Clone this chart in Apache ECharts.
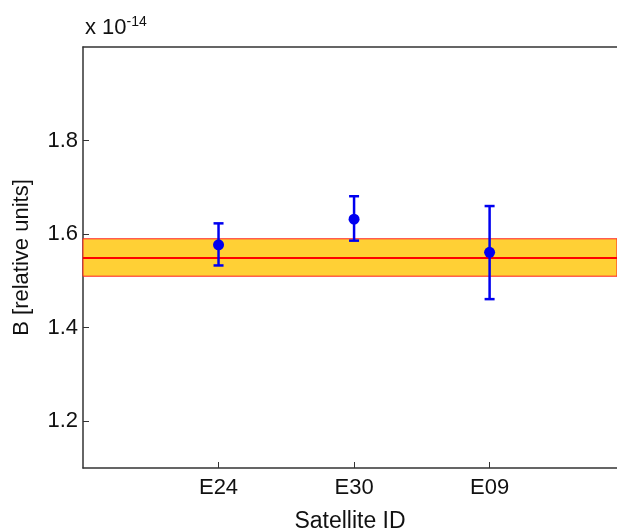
<!DOCTYPE html>
<html><head><meta charset="utf-8">
<script src="https://cdn.jsdelivr.net/npm/echarts@6/dist/echarts.min.js"></script>
<style>html,body{margin:0;padding:0;background:#fff}#c{width:617px;height:530px}</style>
</head><body><div id="c"></div>
<script>
var categories = ['E24', 'E30', 'E09'];
var xPositions = [1, 2, 3];
var values = [1.577, 1.632, 1.561];
var errLow = [1.533, 1.586, 1.461];
var errHigh = [1.623, 1.681, 1.660];
var bandMean = 1.552;
var bandLow = 1.510;
var bandHigh = 1.590;
var yTicks = [1.2, 1.4, 1.6, 1.8];

var FONT = 'Liberation Sans, Arial, sans-serif';
var chart = echarts.init(document.getElementById('c'), null, {renderer: 'canvas'});
var errData = xPositions.map(function (x, i) { return [x, errLow[i], errHigh[i]]; });
var ptData = xPositions.map(function (x, i) { return [x, values[i]]; });

chart.setOption({
  animation: false,
  backgroundColor: '#fff',
  title: {
    left: 80, top: 10,
    text: '{a|x 10}{b|-14}',
    textStyle: {
      fontWeight: 'normal',
      rich: {
        a: {fontFamily: FONT, fontSize: 22, fontWeight: 'normal', color: '#111'},
        b: {fontFamily: FONT, fontSize: 14, fontWeight: 'normal', color: '#111', verticalAlign: 'top', padding: [0, 0, 12, 0]}
      }
    }
  },
  grid: {left: 83, top: 47, bottom: 62, right: 0, show: false, outerBoundsMode: 'none', containLabel: false},
  xAxis: [{
    type: 'value', min: 0, max: 3.94, interval: 1,
    name: 'Satellite ID', nameLocation: 'middle', nameGap: 42,
    nameTextStyle: {fontFamily: FONT, fontSize: 23, color: '#111'},
    axisLine: {lineStyle: {color: '#333', width: 1.5}},
    axisTick: {inside: true, length: 6, customValues: xPositions, lineStyle: {color: '#333'}},
    axisLabel: {customValues: xPositions, margin: 9, fontFamily: FONT, fontSize: 22, color: '#111',
      formatter: function (v) { var i = xPositions.indexOf(v); return i >= 0 ? categories[i] : ''; }},
    splitLine: {show: false}
  }, {
    type: 'value', position: 'top', min: 0, max: 3.94,
    axisLine: {show: true, lineStyle: {color: '#333', width: 1.5}},
    axisTick: {show: false}, axisLabel: {show: false}, splitLine: {show: false}
  }],
  yAxis: {
    type: 'value', min: 1.1, max: 2.0,
    name: 'B [relative units]', nameLocation: 'middle', nameGap: 50,
    nameTextStyle: {fontFamily: FONT, fontSize: 22, color: '#111'},
    axisLine: {show: true, lineStyle: {color: '#333', width: 1.5}},
    axisTick: {show: true, inside: true, length: 6, customValues: yTicks, lineStyle: {color: '#333'}},
    axisLabel: {customValues: yTicks, margin: 5, fontFamily: FONT, fontSize: 22, color: '#111',
      formatter: function (v) { return v.toFixed(1); }},
    splitLine: {show: false}
  },
  series: [
    {
      type: 'line', data: [], silent: true,
      markArea: {
        silent: true,
        itemStyle: {color: '#FFD035', borderColor: '#FF2020', borderWidth: 1},
        data: [[{yAxis: bandLow}, {yAxis: bandHigh}]]
      },
      markLine: {
        silent: true, symbol: 'none', label: {show: false},
        lineStyle: {color: '#FF0000', width: 2, type: 'solid'},
        data: [{yAxis: bandMean}]
      }
    },
    {
      type: 'custom', data: errData, z: 5,
      renderItem: function (params, api) {
        var x = api.value(0);
        var lo = api.coord([x, api.value(1)]);
        var hi = api.coord([x, api.value(2)]);
        var w = 5;
        var st = {stroke: '#0000F0', lineWidth: 2.5};
        return {type: 'group', children: [
          {type: 'line', shape: {x1: lo[0], y1: lo[1], x2: hi[0], y2: hi[1]}, style: st},
          {type: 'line', shape: {x1: lo[0] - w, y1: lo[1], x2: lo[0] + w, y2: lo[1]}, style: st},
          {type: 'line', shape: {x1: hi[0] - w, y1: hi[1], x2: hi[0] + w, y2: hi[1]}, style: st}
        ]};
      }
    },
    {
      type: 'scatter', data: ptData, z: 6, symbol: 'circle', symbolSize: 11,
      itemStyle: {color: '#0000F0', opacity: 1}
    }
  ]
});
</script></body></html>
